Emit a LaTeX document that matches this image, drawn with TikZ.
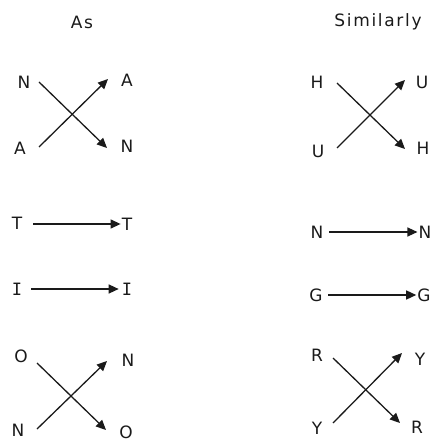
\documentclass[tikz,border=0pt]{standalone}
\usepackage{fontspec}
\setmainfont{DejaVu Sans}
\setmonofont{DejaVu Sans Mono}
\newfontfamily\widefont[LetterSpace=10]{DejaVu Sans}
\usetikzlibrary{arrows.meta,positioning}
\definecolor{inkgray}{HTML}{1A1A1A}
\tikzset{
  letter/.style={
    inner sep=0pt,
    font=\fontsize{17}{20}\selectfont,
    text=inkgray
  },
  heading/.style={letter, font=\fontsize{17}{20}\widefont},
  moveto/.style={-{Triangle[length=10pt,width=9pt]}, line width=1.3pt, draw=inkgray}
}

\begin{document}
\begin{tikzpicture}[x=1pt,y=-1pt]
\useasboundingbox (0,0) rectangle (435,443);

\node[heading] (as) at (82,22) {As};
\node[heading] (sim) at (378,22) {Similarly};

% first cross, left
\coordinate (anw) at (39,82);
\coordinate (ase) at (107,148);
\coordinate (asw) at (39,147);
\coordinate (ane) at (108,79);
\node[letter] (an1) at (24,82) {N};
\node[letter] (aa1) at (127,80) {A};
\node[letter] (aa2) at (20,148) {A};
\node[letter] (an2) at (127,146) {N};
\draw[moveto] (anw) -- (ase);
\draw[moveto] (asw) -- (ane);

% first cross, right
\coordinate (hnw) at (337,83);
\coordinate (hse) at (405,149);
\coordinate (hsw) at (337,148);
\coordinate (hne) at (405,80);
\node[letter] (hh1) at (317,82) {H};
\node[letter] (hu1) at (422,82) {U};
\node[letter] (hu2) at (318,151) {U};
\node[letter] (hh2) at (423,148) {H};
\draw[moveto] (hnw) -- (hse);
\draw[moveto] (hsw) -- (hne);

% straight rows
\node[letter] (t1) at (17,223) {T};
\node[letter] (t2) at (127,224) {T};
\node[letter, font=\fontsize{17}{20}\ttfamily] (i1) at (17,289) {I};
\node[letter, font=\fontsize{17}{20}\ttfamily] (i2) at (127,289) {I};
\node[letter] (n1) at (317,232) {N};
\node[letter] (n2) at (425,232) {N};
\node[letter] (g1) at (316,295) {G};
\node[letter] (g2) at (424,295) {G};

\coordinate (tl) at (33,224);
\coordinate (il) at (31,289);
\coordinate (nl) at (329,232);
\coordinate (gl) at (328,295);
\draw[moveto] (tl) -- ([xshift=-1pt]t2.west);
\draw[moveto] (il) -- ([xshift=-3pt]i2.west);
\draw[moveto] (nl) -- ([xshift=-1pt]n2.west);
\draw[moveto] (gl) -- ([xshift=-1pt]g2.west);

% second cross, left
\coordinate (onw) at (37,363);
\coordinate (ose) at (106,430);
\coordinate (osw) at (37,429);
\coordinate (one) at (107,361);
\node[letter] (oo1) at (21,356) {O};
\node[letter] (on1) at (128,360) {N};
\node[letter] (on2) at (18,430) {N};
\node[letter] (oo2) at (126,432) {O};
\draw[moveto] (onw) -- (ose);
\draw[moveto] (osw) -- (one);

% second cross, right
\coordinate (rnw) at (333,358);
\coordinate (rse) at (400,423);
\coordinate (rsw) at (333,423);
\coordinate (rne) at (402,353);
\node[letter] (rr1) at (317,355) {R};
\node[letter] (ry1) at (420,359) {Y};
\node[letter] (ry2) at (317,428) {Y};
\node[letter] (rr2) at (417,427) {R};
\draw[moveto] (rnw) -- (rse);
\draw[moveto] (rsw) -- (rne);

\end{tikzpicture}
\end{document}
